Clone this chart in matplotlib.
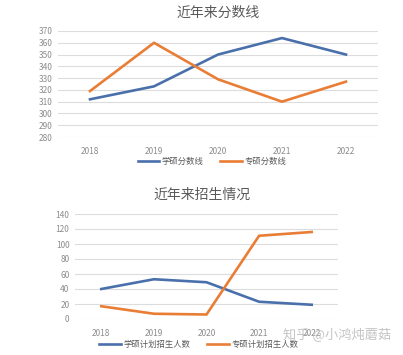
import matplotlib.pyplot as plt
from matplotlib.lines import Line2D

plt.rcParams['font.family'] = ['Noto Sans CJK SC', 'DejaVu Sans']

years = ['2018', '2019', '2020', '2021', '2022']

# top chart: score lines
xueshuo_score = [312, 323, 350, 364, 350]
zhuanshuo_score = [319, 360, 329, 310, 327]
score_ticks = list(range(280, 371, 10))

# bottom chart: enrolment plan
xueshuo_plan = [40, 53, 49, 23, 19]
zhuanshuo_plan = [17, 7, 6, 111, 116]
plan_ticks = list(range(0, 141, 20))

BLUE = '#4A70AC'
ORANGE = '#E97D35'
GRID = '#DCDCDC'
TEXT = '#595959'

W, H = 403, 355
fig = plt.figure(figsize=(W / 100, H / 100), dpi=100)


def px_axes(left, top, right, bottom):
    return fig.add_axes([left / W, 1 - bottom / H, (right - left) / W, (bottom - top) / H])


def style(ax, ticks):
    for s in ax.spines.values():
        s.set_visible(False)
    ax.set_yticks(ticks)
    ax.set_ylim(ticks[0], ticks[-1])
    ax.set_xlim(-0.5, len(years) - 0.5)
    ax.set_xticks(range(len(years)))
    ax.set_xticklabels(years)
    ax.grid(axis='y', color=GRID, linewidth=0.8)
    ax.set_axisbelow(True)
    ax.tick_params(length=0, labelsize=6, pad=4)
    ax.tick_params(axis='x', pad=7)
    for lab in ax.get_xticklabels() + ax.get_yticklabels():
        lab.set_color('#8C8C8C')


# top
ax1 = px_axes(58, 31, 378, 137)
ax1.plot(range(5), xueshuo_score, color=BLUE, lw=1.9)
ax1.plot(range(5), zhuanshuo_score, color=ORANGE, lw=1.9)
style(ax1, score_ticks)
fig.text(218 / W, 1 - 13 / H, '近年来分数线', ha='center', va='center', fontsize=10, color=TEXT)
handles = [Line2D([], [], color=BLUE, lw=1.9), Line2D([], [], color=ORANGE, lw=1.9)]
fig.legend(handles, ['学硕分数线', '专硕分数线'], loc='center', bbox_to_anchor=(212 / W, 1 - 161 / H),
           ncol=2, frameon=False, fontsize=6, handlelength=2.6, columnspacing=2.0,
           handletextpad=0.3, labelcolor=TEXT)

# bottom
ax2 = px_axes(75, 214, 338, 319)
ax2.plot(range(5), xueshuo_plan, color=BLUE, lw=1.9)
ax2.plot(range(5), zhuanshuo_plan, color=ORANGE, lw=1.9)
style(ax2, plan_ticks)
fig.text(202 / W, 1 - 195 / H, '近年来招生情况', ha='center', va='center', fontsize=10, color=TEXT)
fig.legend(handles, ['学硕计划招生人数', '专硕计划招生人数'], loc='center', bbox_to_anchor=(199 / W, 1 - 344 / H),
           ncol=2, frameon=False, fontsize=6, handlelength=2.6, columnspacing=2.0,
           handletextpad=0.3, labelcolor=TEXT)

# watermark
fig.text(283 / W, 1 - 334 / H, '知乎 @小鸿炖蘑菇', ha='left', va='center', fontsize=9.5,
         color='#BFBFBF', alpha=0.9)

fig.savefig('out.png', dpi=100, facecolor='white')
